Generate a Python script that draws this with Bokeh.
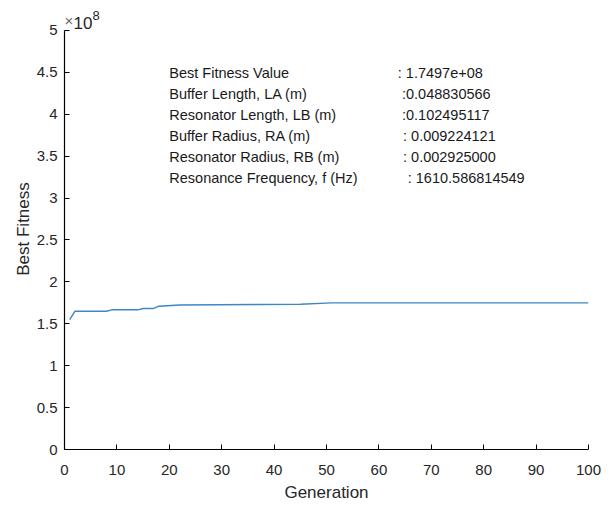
from bokeh.plotting import figure
from bokeh.models import Range1d, FixedTicker, CustomJSTickFormatter, Label
from bokeh.embed import file_html
from bokeh.resources import INLINE

# Data
generation = [1, 2, 8, 9, 14, 15, 17, 18, 22, 45, 51, 100]
best_fitness = [1.55e8, 1.65e8, 1.65e8, 1.667e8, 1.667e8, 1.683e8, 1.683e8,
                1.71e8, 1.725e8, 1.733e8, 1.7497e8, 1.7497e8]

x_ticks = [0, 10, 20, 30, 40, 50, 60, 70, 80, 90, 100]
y_ticks = [0, 0.5e8, 1e8, 1.5e8, 2e8, 2.5e8, 3e8, 3.5e8, 4e8, 4.5e8, 5e8]

info_names = ["Best Fitness Value", "Buffer Length, LA (m)", "Resonator Length, LB (m)",
              "Buffer Radius, RA (m)", "Resonator Radius, RB (m)", "Resonance Frequency, f (Hz)"]
info_values = [": 1.7497e+08", ":0.048830566", ":0.102495117",
               ": 0.009224121", ": 0.002925000", ": 1610.586814549"]

# layout of annotation (positions in data coords)
name_x = 20.0
value_x = [63.6, 64.4, 64.4, 64.6, 64.6, 65.5]
row_y0 = 4.49e8
row_dy = 0.2506e8

FONT = "Liberation Sans"
TICK_COLOR = "#262626"

p = figure(width=613, height=506, output_backend="svg", toolbar_location=None,
           x_range=Range1d(0, 100), y_range=Range1d(0, 5.2625e8),
           min_border_left=64, min_border_right=25, min_border_top=8, min_border_bottom=57)
p.outline_line_color = None
p.xgrid.visible = False
p.ygrid.visible = False
p.background_fill_color = "white"
p.border_fill_color = "white"

p.line(generation, best_fitness, line_color="#3d87c4", line_width=1.4)

for ax in (p.xaxis[0], p.yaxis[0]):
    ax.axis_line_color = "black"
    ax.axis_line_width = 1.2
    ax.major_tick_in = 5
    ax.major_tick_out = 0
    ax.major_tick_line_color = "black"
    ax.minor_tick_line_color = None
    ax.major_label_text_font = FONT
    ax.major_label_text_font_size = "15px"
    ax.major_label_text_color = TICK_COLOR
    ax.axis_label_text_font = FONT
    ax.axis_label_text_font_size = "17px"
    ax.axis_label_text_font_style = "normal"
    ax.axis_label_text_color = TICK_COLOR

p.yaxis.bounds = (0, 5e8)
p.xaxis.ticker = FixedTicker(ticks=x_ticks)
p.yaxis.ticker = FixedTicker(ticks=y_ticks)
p.yaxis.formatter = CustomJSTickFormatter(code="return String(Math.round(tick/1e8*10)/10);")
p.xaxis.axis_label = "Generation"
p.yaxis.axis_label = "Best Fitness"
p.xaxis.major_label_standoff = 15
p.yaxis.major_label_standoff = 7
p.xaxis.axis_label_standoff = 5
p.yaxis.axis_label_standoff = 1

for i, (n, v) in enumerate(zip(info_names, info_values)):
    y = row_y0 - i * row_dy
    p.add_layout(Label(x=name_x, y=y, text=n, text_font=FONT, text_font_size="14.5px",
                       text_color="#1a1a1a", text_baseline="middle"))
    p.add_layout(Label(x=value_x[i], y=y, text=v, text_font=FONT, text_font_size="14.5px",
                       text_color="#1a1a1a", text_baseline="middle"))

# exponent label
p.add_layout(Label(x=0, y=5e8, text="\u00d7", text_font=FONT, text_font_size="15px",
                   text_color="#6a6a6a", x_offset=0, y_offset=1, text_baseline="bottom"))
p.add_layout(Label(x=0, y=5e8, text="10", text_font=FONT, text_font_size="17px",
                   text_color=TICK_COLOR, x_offset=9, y_offset=1, text_baseline="bottom"))
p.add_layout(Label(x=0, y=5e8, text="8", text_font=FONT, text_font_size="13px",
                   text_color=TICK_COLOR, x_offset=28, y_offset=10, text_baseline="bottom"))

open("out.html", "w").write(file_html(p, INLINE))
